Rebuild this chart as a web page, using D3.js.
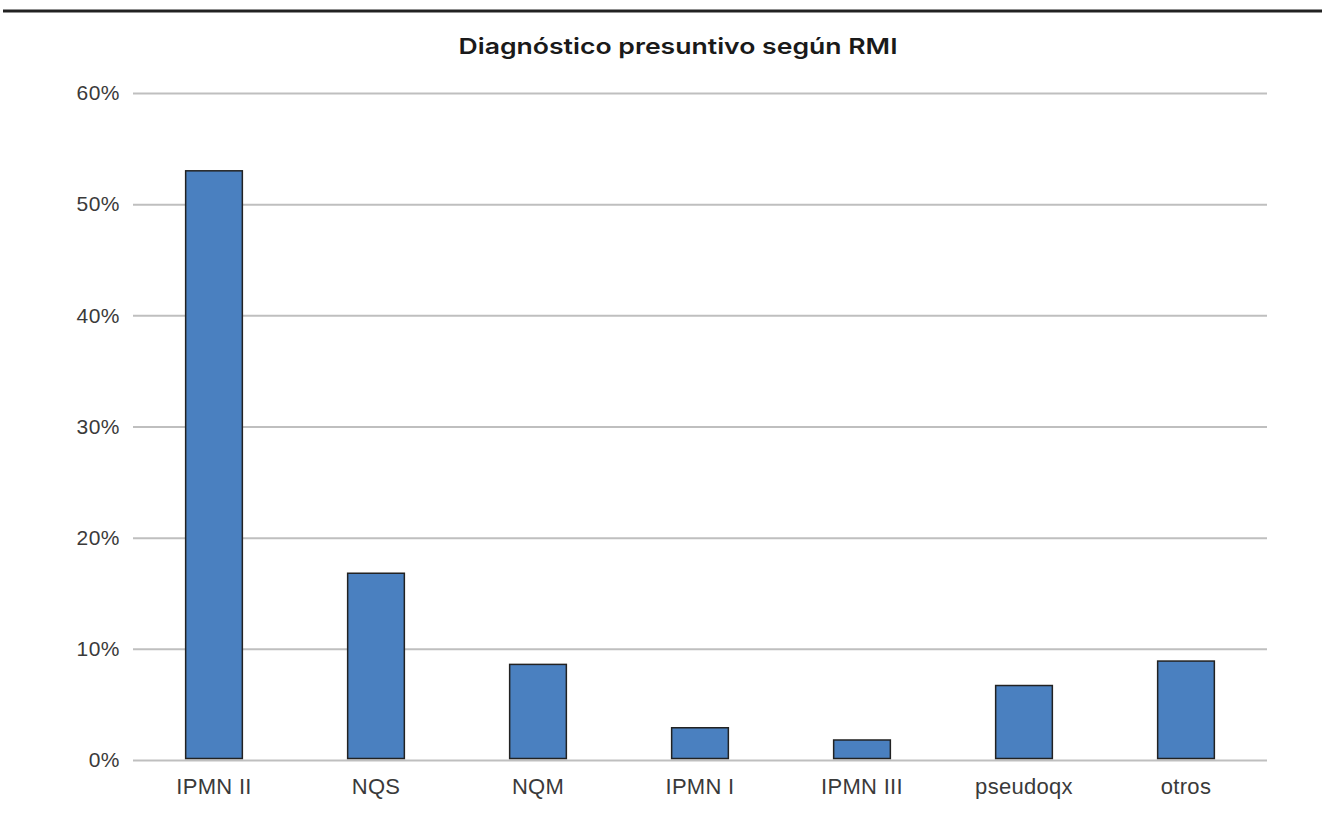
<!DOCTYPE html>
<html><head><meta charset="utf-8">
<script src="https://cdn.jsdelivr.net/npm/d3@7"></script>
<style>body{margin:0;background:#fff;} svg{display:block;}</style>
</head><body>
<svg id="c" width="1322" height="813"></svg>
<script>
const categories = ["IPMN II","NQS","NQM","IPMN I","IPMN III","pseudoqx","otros"];
const values = [53.0, 16.8, 8.6, 2.9, 1.8, 6.7, 8.9];
const yTicks = [0,10,20,30,40,50,60];

const svg = d3.select("#c");
const W=1322,H=813;
const m={left:133,right:55,top:93,bottom:53};
const x=d3.scaleBand().domain(categories).range([m.left,W-m.right]).paddingInner(0.65).paddingOuter(0.325);
const y=d3.scaleLinear().domain([0,60]).range([H-m.bottom,m.top]);

svg.append("line").attr("x1",3).attr("x2",W).attr("y1",11).attr("y2",11).attr("stroke","#222").attr("stroke-width",3);

svg.append("text").attr("x",678).attr("y",54).attr("text-anchor","middle")
  .attr("font-family","Inter, 'Liberation Sans', sans-serif").attr("font-weight",600).attr("font-size",22).attr("fill","#1a1a1a")
  .attr("textLength",439).attr("lengthAdjust","spacingAndGlyphs")
  .text("Diagnóstico presuntivo según RMI");

const ya=d3.axisLeft(y).tickValues(yTicks).tickFormat(d=>d+"%").tickSize(-(W-m.left-m.right)).tickPadding(13);
const gy=svg.append("g").attr("transform",`translate(${m.left},0)`).call(ya);
gy.select(".domain").remove();
gy.selectAll(".tick line").attr("stroke","#bfbfbf").attr("stroke-width",2);
gy.selectAll(".tick text").attr("font-family","'Liberation Sans', Arial, sans-serif").attr("font-size",21).attr("letter-spacing",0.5).attr("fill","#3a3a3a");

svg.append("g").selectAll("rect").data(values).join("rect")
  .attr("x",(d,i)=>x(categories[i])).attr("width",x.bandwidth())
  .attr("y",d=>y(d)).attr("height",d=>y(0)-y(d)-1.5)
  .attr("fill","#4a80c0").attr("stroke","#222").attr("stroke-width",1.5);

const xa=d3.axisBottom(x).tickSize(0).tickPadding(18);
const gx=svg.append("g").attr("transform",`translate(0,${y(0)})`).call(xa);
gx.select(".domain").remove();
gx.selectAll(".tick text").attr("font-family","'Liberation Sans', Arial, sans-serif").attr("font-size",22).attr("letter-spacing",0.3).attr("fill","#3a3a3a");
</script>
</body></html>
